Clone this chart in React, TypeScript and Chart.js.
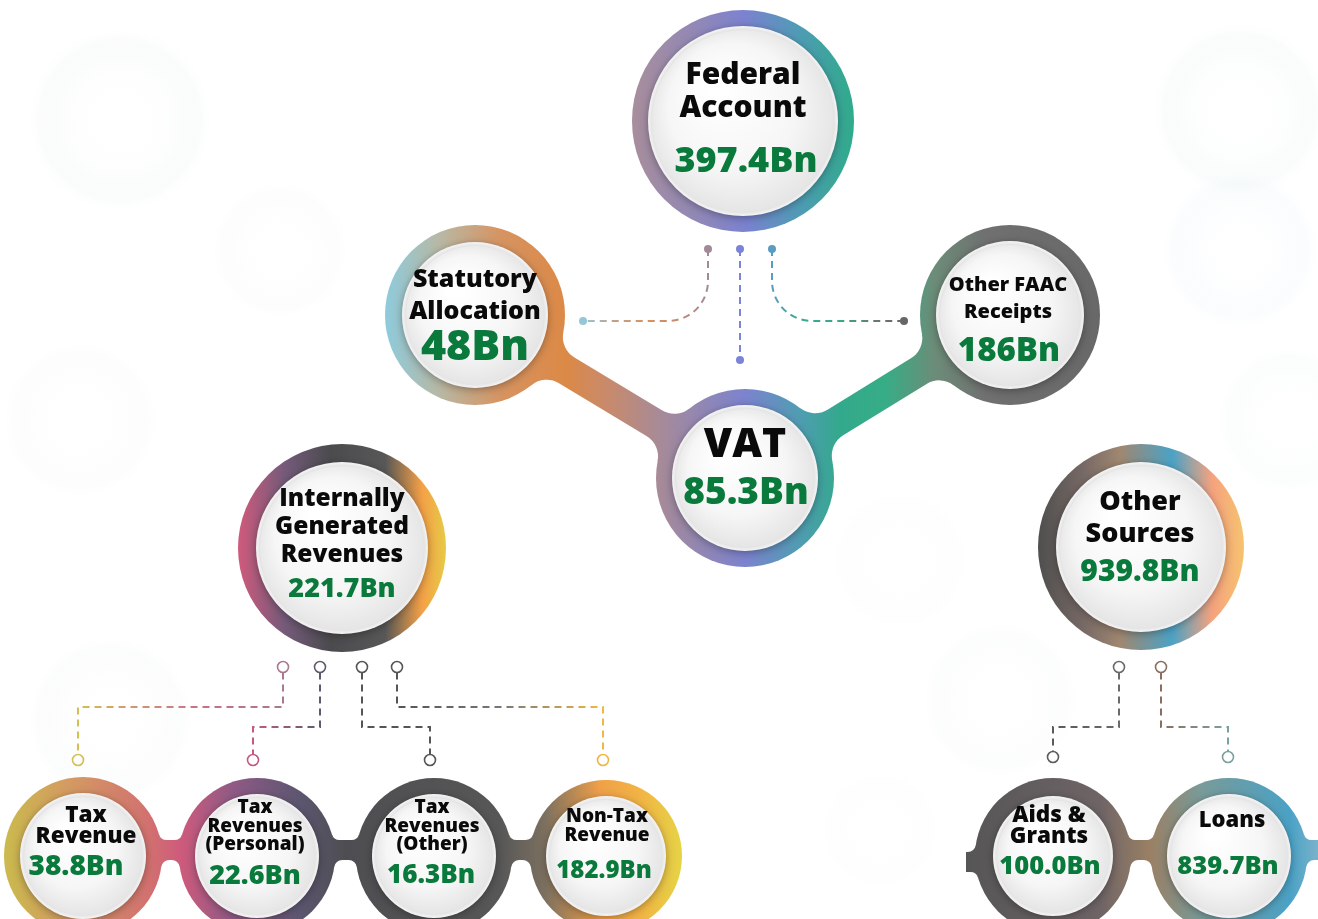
import React, { useEffect, useRef } from 'react';
import { Chart, registerables } from 'chart.js';
Chart.register(...registerables);

// ---------------- DATA ----------------
const categories = [
  'Federal Account', 'Statutory Allocation', 'Other FAAC Receipts', 'VAT',
  'Internally Generated Revenues', 'Other Sources',
  'Tax Revenue', 'Tax Revenues (Personal)', 'Tax Revenues (Other)', 'Non-Tax Revenue',
  'Aids & Grants', 'Loans',
];
const labelLines: string[][] = [
  ['Federal', 'Account'], ['Statutory', 'Allocation'], ['Other FAAC', 'Receipts'], ['VAT'],
  ['Internally', 'Generated', 'Revenues'], ['Other', 'Sources'],
  ['Tax', 'Revenue'], ['Tax', 'Revenues', '(Personal)'], ['Tax', 'Revenues', '(Other)'], ['Non-Tax', 'Revenue'],
  ['Aids &', 'Grants'], ['Loans'],
];
const valuesBn = [397.4, 48, 186, 85.3, 221.7, 939.8, 38.8, 22.6, 16.3, 182.9, 100.0, 839.7];
const valueDecimals = [1, 0, 0, 1, 1, 1, 1, 1, 1, 1, 1, 1];
const unitSuffix = 'Bn';

// ---------------- LAYOUT (page units, mapped through the chart scales) ----------------
const W = 1318;
const H = 919;
const nodeX = [743, 475, 1010, 745, 342, 1141, 83, 257, 434, 606, 1053, 1229];
const nodeY = [121, 315, 315, 478, 548, 547, 856, 856, 856, 856, 856, 856];
const outerR = [111, 90, 90, 89, 104, 103, 79, 78, 78, 76, 78, 78];
const ringW = [16, 17, 16, 16, 18, 18, 16, 16, 16, 16, 18, 16];
const nodeGroup = [0, 1, 1, 1, 2, 3, 4, 4, 4, 4, 5, 5];

const labelX = [743, 475, 1008, 745, 342, 1140, 86, 255, 432, 607, 1049, 1232];
const labelY0 = [75, 280, 285, 445, 499, 502, 816, 808, 808, 817, 816, 821];
const lineH = [33, 32, 27, 0, 28, 32, 21, 18.5, 18.5, 19, 21, 0];
const labelFont = [30, 25, 20, 41, 24.5, 27, 22.5, 19, 19, 19, 22.5, 22];
const valueX = [746, 475, 1009, 746, 342, 1140, 76, 255, 431, 604, 1050, 1228];
const valueY = [162, 348, 352, 493, 589, 572, 867, 876, 876, 871, 867, 867];
const valueFont = [36, 43, 33, 37, 27, 30, 28, 27, 26, 24, 25.5, 25.5];

const groupStops: [number, string][][] = [
  [[632, '#a88e9c'], [700, '#9088b8'], [745, '#7b82d0'], [800, '#4e9cb4'], [854, '#2fab8a']],
  [[385, '#8ecbdd'], [440, '#b8b8a4'], [500, '#d69462'], [565, '#dc8946'], [615, '#c48a72'], [665, '#a48a9c'],
   [745, '#7c83cf'], [800, '#4f9db2'], [840, '#33a98c'], [885, '#36ad86'], [935, '#6c8c78'], [985, '#707070'], [1100, '#686868']],
  [[238, '#d05a7c'], [285, '#745a7a'], [330, '#4b4b4e'], [385, '#575757'], [422, '#f4a046'], [447, '#e6cc46']],
  [[1037, '#4e4e4e'], [1085, '#786a66'], [1120, '#a08770'], [1172, '#4ba2c6'], [1212, '#f5a27e'], [1245, '#f6c46e']],
  [[0, '#cabc4c'], [70, '#d49a62'], [150, '#d27070'], [182, '#cd5a7c'], [232, '#905a86'], [300, '#5c5670'],
   [345, '#4e4e52'], [500, '#575757'], [545, '#7c7060'], [600, '#f0a048'], [640, '#f2b444'], [685, '#e4d646']],
  [[960, '#555555'], [1100, '#6e6466'], [1150, '#9a8064'], [1200, '#7a9a98'], [1290, '#4aa2c6'], [1318, '#7ab2ca']],
];

const links = [
  { a: 1, b: 3, w: 15, f: 24, off: 0 },
  { a: 2, b: 3, w: 15, f: 24, off: 0 },
  { a: 6, b: 7, w: 10, f: 8, off: -6 },
  { a: 7, b: 8, w: 10, f: 8, off: -6 },
  { a: 8, b: 9, w: 10, f: 8, off: -6 },
  { a: 10, b: 11, w: 10, f: 8, off: -6 },
];
const stubs = [
  { node: 10, toX: 877, clipMin: 966, clipMax: 1100 },
  { node: 11, toX: 1405, clipMin: 1200, clipMax: 1400 },
];

type Conn = { pts: number[][]; radius: number; stops: [number, string][]; hollow: boolean };
const connectors: Conn[] = [
  { pts: [[708, 249], [708, 321], [583, 321]], radius: 40, hollow: false,
    stops: [[583, '#94c8d8'], [615, '#c0a088'], [650, '#d8905c'], [690, '#b88a80'], [708, '#a08a9a']] },
  { pts: [[740, 249], [740, 360]], radius: 0, hollow: false, stops: [[740, '#7b84d6']] },
  { pts: [[772, 249], [772, 321], [904, 321]], radius: 40, hollow: false,
    stops: [[772, '#5a9cc2'], [800, '#3aaa8e'], [840, '#3aa88a'], [880, '#707070'], [904, '#666666']] },
  { pts: [[283, 667], [283, 707], [78, 707], [78, 760]], radius: 0, hollow: true,
    stops: [[78, '#d4c054'], [130, '#d09870'], [200, '#c8708a'], [283, '#a87890']] },
  { pts: [[320, 667], [320, 727], [253, 727], [253, 760]], radius: 0, hollow: true,
    stops: [[253, '#c45a84'], [320, '#5e5a6c']] },
  { pts: [[362, 667], [362, 727], [430, 727], [430, 760]], radius: 0, hollow: true, stops: [[362, '#555555']] },
  { pts: [[397, 667], [397, 707], [603, 707], [603, 760]], radius: 0, hollow: true,
    stops: [[397, '#555555'], [500, '#777777'], [603, '#f0b840']] },
  { pts: [[1119, 667], [1119, 727], [1053, 727], [1053, 757]], radius: 0, hollow: true,
    stops: [[1053, '#5a5a5a'], [1119, '#6a6a6a']] },
  { pts: [[1161, 667], [1161, 727], [1228, 727], [1228, 757]], radius: 0, hollow: true,
    stops: [[1161, '#8a6e5e'], [1228, '#7aa0a0']] },
];

const blobs: [number, number, number, string][] = [
  [120, 120, 95, 'rgba(190,215,205,0.07)'],
  [1240, 110, 90, 'rgba(190,215,215,0.07)'],
  [1240, 250, 80, 'rgba(180,210,225,0.06)'],
  [280, 250, 70, 'rgba(195,215,200,0.05)'],
  [80, 420, 80, 'rgba(195,215,205,0.05)'],
  [1290, 420, 75, 'rgba(190,215,215,0.05)'],
  [110, 720, 85, 'rgba(200,210,210,0.06)'],
  [900, 560, 70, 'rgba(205,220,210,0.04)'],
  [880, 830, 60, 'rgba(205,220,210,0.04)'],
  [1000, 700, 80, 'rgba(205,215,215,0.05)'],
];

const FONT = '"Open Sans", "Noto Sans", sans-serif';

type Pt = { x: number; y: number };

function arcShort(ctx: CanvasRenderingContext2D, F: Pt, r: number, P: Pt, Q: Pt) {
  const a0 = Math.atan2(P.y - F.y, P.x - F.x);
  const a1 = Math.atan2(Q.y - F.y, Q.x - F.x);
  let d = a1 - a0;
  while (d > Math.PI) d -= 2 * Math.PI;
  while (d < -Math.PI) d += 2 * Math.PI;
  ctx.arc(F.x, F.y, r, a0, a0 + d, d < 0);
}

function bandPath(ctx: CanvasRenderingContext2D, c1: Pt, R1: number, c2: Pt, R2: number, w: number, fIn: number, off: number) {
  const dx = c2.x - c1.x, dy = c2.y - c1.y, L = Math.hypot(dx, dy);
  const u = { x: dx / L, y: dy / L };
  const n = { x: -u.y, y: u.x };
  const P0 = { x: c1.x + off * n.x, y: c1.y + off * n.y };
  const calc = (C: Pt, R: number, dir: number, s: number, f: number) => {
    const t = (C.x - P0.x) * u.x + (C.y - P0.y) * u.y;
    const dC = (C.x - P0.x) * n.x + (C.y - P0.y) * n.y;
    const perp = s * (w + f) - dC;
    const a = Math.sqrt(Math.max(0, (R + f) * (R + f) - perp * perp));
    const along = t + dir * a;
    const F = { x: P0.x + along * u.x + s * (w + f) * n.x, y: P0.y + along * u.y + s * (w + f) * n.y };
    const E = { x: P0.x + along * u.x + s * w * n.x, y: P0.y + along * u.y + s * w * n.y };
    const k = R / (R + f);
    const T = { x: C.x + (F.x - C.x) * k, y: C.y + (F.y - C.y) * k };
    return { F, E, T, along };
  };
  let f = fIn;
  let p1p, p2p, p1m, p2m;
  for (;;) {
    p1p = calc(c1, R1, 1, 1, f); p2p = calc(c2, R2, -1, 1, f);
    p1m = calc(c1, R1, 1, -1, f); p2m = calc(c2, R2, -1, -1, f);
    if ((p1p.along <= p2p.along && p1m.along <= p2m.along) || f <= 1) break;
    f -= 0.5;
  }
  ctx.beginPath();
  ctx.moveTo(p1p.T.x, p1p.T.y);
  arcShort(ctx, p1p.F, f, p1p.T, p1p.E);
  ctx.lineTo(p2p.E.x, p2p.E.y);
  arcShort(ctx, p2p.F, f, p2p.E, p2p.T);
  ctx.lineTo(p2m.T.x, p2m.T.y);
  arcShort(ctx, p2m.F, f, p2m.T, p2m.E);
  ctx.lineTo(p1m.E.x, p1m.E.y);
  arcShort(ctx, p1m.F, f, p1m.E, p1m.T);
  ctx.closePath();
}

function hGrad(ctx: CanvasRenderingContext2D, stops: [number, string][], px: (v: number) => number) {
  if (stops.length === 1) return stops[0][1];
  const xs = stops.map(s => s[0]);
  const x0 = Math.min(...xs), x1 = Math.max(...xs);
  const g = ctx.createLinearGradient(px(x0), 0, px(x1), 0);
  stops.forEach(([x, c]) => g.addColorStop((x - x0) / (x1 - x0), c));
  return g;
}

const infographic = {
  id: 'infographic',
  beforeDraw(chart: any) {
    const ctx: CanvasRenderingContext2D = chart.ctx;
    ctx.save();
    ctx.fillStyle = '#ffffff';
    ctx.fillRect(0, 0, chart.width, chart.height);
    const xs = chart.scales.x, ys = chart.scales.y;
    const S = (xs.getPixelForValue(100) - xs.getPixelForValue(0)) / 100;
    blobs.forEach(([x, y, r, c]) => {
      const cx = xs.getPixelForValue(x), cy = ys.getPixelForValue(y);
      const g = ctx.createRadialGradient(cx, cy, 0, cx, cy, r * S);
      g.addColorStop(0, 'rgba(255,255,255,0)');
      g.addColorStop(0.7, c);
      g.addColorStop(0.85, c);
      g.addColorStop(1, 'rgba(255,255,255,0)');
      ctx.fillStyle = g;
      ctx.beginPath(); ctx.arc(cx, cy, r * S, 0, Math.PI * 2); ctx.fill();
    });
    ctx.restore();
  },
  afterDatasetsDraw(chart: any) {
    const ctx: CanvasRenderingContext2D = chart.ctx;
    const xs = chart.scales.x, ys = chart.scales.y;
    const px = (v: number) => xs.getPixelForValue(v);
    const py = (v: number) => ys.getPixelForValue(v);
    const S = (px(100) - px(0)) / 100;
    const meta = chart.getDatasetMeta(0);
    const C = (i: number): Pt => ({ x: meta.data[i].x, y: meta.data[i].y });

    // dashed connectors
    ctx.save();
    connectors.forEach(cn => {
      const pts = cn.pts.map(p => ({ x: px(p[0]), y: py(p[1]) }));
      const col = hGrad(ctx, cn.stops, px);
      const hr = 5.5 * S;
      const trim = cn.hollow ? hr : 0;
      const first = { ...pts[0] }, last = { ...pts[pts.length - 1] };
      const d0 = Math.hypot(pts[1].x - pts[0].x, pts[1].y - pts[0].y);
      first.x += (pts[1].x - pts[0].x) / d0 * trim; first.y += (pts[1].y - pts[0].y) / d0 * trim;
      const m = pts.length - 1;
      const d1 = Math.hypot(pts[m].x - pts[m - 1].x, pts[m].y - pts[m - 1].y);
      last.x -= (pts[m].x - pts[m - 1].x) / d1 * trim; last.y -= (pts[m].y - pts[m - 1].y) / d1 * trim;
      ctx.beginPath();
      ctx.moveTo(first.x, first.y);
      for (let k = 1; k < m; k++) {
        if (cn.radius > 0) ctx.arcTo(pts[k].x, pts[k].y, pts[k + 1].x, pts[k + 1].y, cn.radius * S);
        else ctx.lineTo(pts[k].x, pts[k].y);
      }
      ctx.lineTo(last.x, last.y);
      ctx.setLineDash([7 * S, 5 * S]);
      ctx.lineWidth = 2 * S;
      ctx.strokeStyle = col as any;
      ctx.stroke();
      ctx.setLineDash([]);
      [pts[0], pts[m]].forEach(p => {
        ctx.beginPath();
        if (cn.hollow) {
          ctx.arc(p.x, p.y, hr, 0, Math.PI * 2);
          ctx.lineWidth = 1.6 * S;
          ctx.strokeStyle = col as any;
          ctx.stroke();
        } else {
          ctx.arc(p.x, p.y, 4 * S, 0, Math.PI * 2);
          ctx.fillStyle = col as any;
          ctx.fill();
        }
      });
    });
    ctx.restore();

    const grads = groupStops.map(st => hGrad(ctx, st, px));

    // bands (links + stubs)
    links.forEach(l => {
      ctx.save();
      bandPath(ctx, C(l.a), outerR[l.a] * S, C(l.b), outerR[l.b] * S, l.w * S, l.f * S, l.off * S);
      ctx.fillStyle = grads[nodeGroup[l.a]] as any;
      ctx.fill();
      ctx.restore();
    });
    stubs.forEach(s => {
      ctx.save();
      ctx.beginPath();
      ctx.rect(px(s.clipMin), 0, px(s.clipMax) - px(s.clipMin), chart.height);
      ctx.clip();
      const c = C(s.node);
      const other = { x: px(s.toX), y: c.y };
      const R = outerR[s.node] * S;
      bandPath(ctx, c, R, other, R, 10 * S, 8 * S, -6 * S);
      ctx.fillStyle = grads[nodeGroup[s.node]] as any;
      ctx.fill();
      ctx.restore();
    });

    // rings
    nodeX.forEach((_, i) => {
      const c = C(i);
      ctx.beginPath();
      ctx.arc(c.x, c.y, outerR[i] * S, 0, Math.PI * 2);
      ctx.fillStyle = grads[nodeGroup[i]] as any;
      ctx.fill();
    });

    // discs
    nodeX.forEach((_, i) => {
      const c = C(i);
      const r = (outerR[i] - ringW[i]) * S;
      ctx.save();
      ctx.shadowColor = 'rgba(0,0,0,0.30)';
      ctx.shadowBlur = 8 * S;
      ctx.shadowOffsetY = 2 * S;
      ctx.beginPath();
      ctx.arc(c.x, c.y, r, 0, Math.PI * 2);
      ctx.fillStyle = '#f8f8f8';
      ctx.fill();
      ctx.restore();
      const r2 = r - 4 * S;
      ctx.save();
      ctx.shadowColor = 'rgba(0,0,0,0.18)';
      ctx.shadowBlur = 6 * S;
      const g = ctx.createRadialGradient(c.x - r2 * 0.3, c.y - r2 * 0.4, r2 * 0.1, c.x, c.y, r2 * 1.1);
      g.addColorStop(0, '#ffffff');
      g.addColorStop(0.6, '#f6f6f6');
      g.addColorStop(1, '#e2e2e2');
      ctx.beginPath();
      ctx.arc(c.x, c.y, r2, 0, Math.PI * 2);
      ctx.fillStyle = g;
      ctx.fill();
      ctx.restore();
    });

    // texts
    ctx.save();
    ctx.textAlign = 'center';
    ctx.textBaseline = 'middle';
    categories.forEach((_, i) => {
      ctx.fillStyle = '#0a0a0a';
      ctx.font = `800 ${labelFont[i] * S}px ${FONT}`;
      labelLines[i].forEach((line, k) => {
        ctx.fillText(line, px(labelX[i]), py(labelY0[i] + k * lineH[i]));
      });
      ctx.fillStyle = '#0a7a3c';
      ctx.font = `800 ${valueFont[i] * S}px ${FONT}`;
      ctx.fillText(valuesBn[i].toFixed(valueDecimals[i]) + unitSuffix, px(valueX[i]), py(valueY[i]));
    });
    ctx.restore();
  },
};

export default function App() {
  const ref = useRef<HTMLCanvasElement>(null);
  useEffect(() => {
    if (!ref.current) return;
    let alive = true;
    const chart = new Chart(ref.current, {
      type: 'scatter',
      data: {
        labels: categories,
        datasets: [{
          label: 'nodes',
          data: nodeX.map((x, i) => ({ x, y: nodeY[i] })),
          pointRadius: 0,
          pointHoverRadius: 0,
        }],
      },
      options: {
        animation: false,
        responsive: true,
        maintainAspectRatio: false,
        events: [],
        layout: { padding: 0 },
        plugins: { legend: { display: false }, tooltip: { enabled: false } },
        scales: {
          x: { type: 'linear', min: 0, max: W, display: false },
          y: { type: 'linear', min: 0, max: H, reverse: true, display: false },
        },
      },
      plugins: [infographic as any],
    });
    if ((document as any).fonts && (document as any).fonts.load) {
      Promise.all([
        (document as any).fonts.load(`800 20px "Open Sans"`),
        (document as any).fonts.load(`700 20px "Open Sans"`),
      ]).then(() => { if (alive) chart.draw(); }).catch(() => {});
    }
    return () => { alive = false; chart.destroy(); };
  }, []);
  return (
    <div style={{ position: 'fixed', left: 0, top: 0, width: W + 'px', height: H + 'px', background: '#fff' }}>
      <canvas ref={ref} />
    </div>
  );
}
